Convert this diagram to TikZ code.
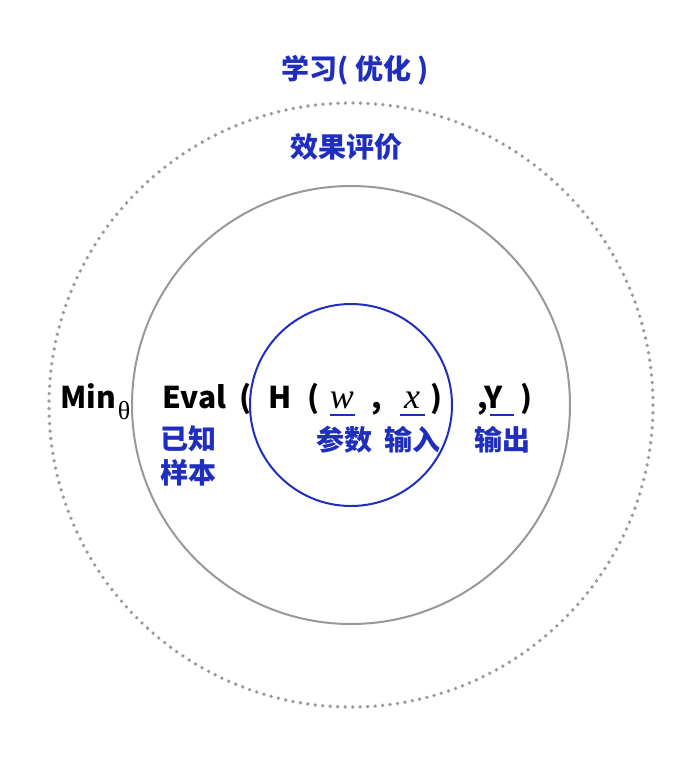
\documentclass[tikz,border=0pt]{standalone}
\usepackage{fontspec}
\usepackage{xcolor}
\usepackage{tikz}
\usetikzlibrary{positioning}
\setmainfont{Noto Sans CJK SC}
\newfontfamily\cjk{Noto Sans CJK SC}
\newfontfamily\serif{Liberation Serif}
\definecolor{cnblue}{RGB}{32,46,190}
\definecolor{ringgray}{RGB}{152,152,152}
\definecolor{dotgray}{RGB}{155,155,155}
\tikzset{
  term/.style={inner sep=0pt, anchor=base west, font=\fontsize{15pt}{18pt}\cjk\bfseries},
  var/.style={inner sep=0pt, anchor=base, font=\fontsize{18pt}{20pt}\serif\itshape},
  cn/.style={inner sep=0pt, text=cnblue, font=\fontsize{14pt}{17pt}\cjk\bfseries},
  uline/.style={cnblue, line width=0.6pt}
}

\begin{document}
\begin{tikzpicture}[x=0.5pt, y=-0.5pt]
          \useasboundingbox (0,0) rectangle (700,761);
          % rings
          \draw[dotgray, line width=1.9pt, line cap=round, dash pattern=on 0pt off 3.75pt] (351,405) circle (151pt);
          \draw[ringgray, line width=1pt] (351,405) circle (109.5pt);
          \draw[cnblue, line width=1pt] (351,405) circle (50.5pt);
          % formula
          \node[term] at (60,408) (min) {Min};
          \node[inner sep=0pt, font=\fontsize{13pt}{14pt}\serif] at (124,411) (theta) {θ};
          \node[term] at (162,408) (eval) {Eval};
          \node[term] at (239,408) (lp1) {(};
          \node[term] at (268,408) (h) {H};
          \node[term] at (307,408) (lp2) {(};
          \node[var] at (342,408) (w) {w};
          \node[term] at (371,408) (c1) {,};
          \node[var] at (412,408) (x) {x};
          \node[term] at (430,408) (rp1) {)};
          \node[term] at (477,408) (y) {,Y};
          \node[term] at (520,408) (rp2) {)};
          \draw[uline] (330,415) -- (355,415);
          \draw[uline] (400,415) -- (425,415);
          \draw[uline] (490,415) -- (514,415);
          % labels
          \node[cn] at (355,70) (learn) {学习( 优化 )};
          \node[cn] at (346,147) (judge) {效果评价};
          \node[cn] at (188,439) (known) {已知};
          \node[cn] at (188,473) (sample) {样本};
          \node[cn] at (344,440) (param) {参数};
          \node[cn] at (412,440) (input) {输入};
          \node[cn] at (502,440) (output) {输出};
        \end{tikzpicture}
\end{document}
